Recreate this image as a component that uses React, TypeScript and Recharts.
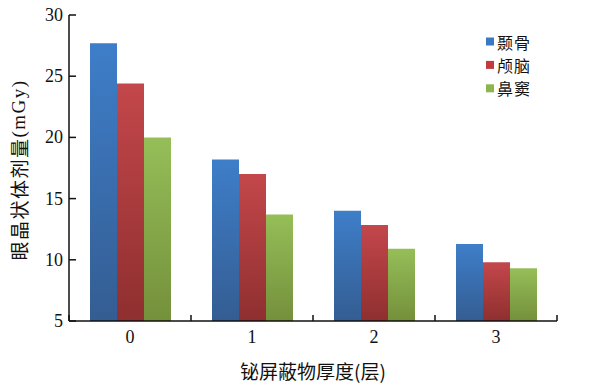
import React from 'react';
import { BarChart, Bar, XAxis, YAxis } from 'recharts';

const categories = ['0', '1', '2', '3'];
const seriesNames = ['颞骨', '颅脑', '鼻窦'];
const temporalBone = [27.7, 18.2, 14.0, 11.3];
const brain = [24.4, 17.0, 12.85, 9.8];
const sinus = [20.0, 13.7, 10.9, 9.3];
const yTicks = [5, 10, 15, 20, 25, 30];
const yTitleCJK = '眼晶状体剂量';
const yTitleUnit = '(mGy)';
const xTitle = '铋屏蔽物厚度(层)';

const data = categories.map((c, i) => ({
  cat: c,
  s0: temporalBone[i],
  s1: brain[i],
  s2: sinus[i],
}));

const seriesKeys = ['s0', 's1', 's2'];
const gradients = [
  { id: 'gBlue', top: '#3e7ec9', bottom: '#345d92', legend: '#3a78c2' },
  { id: 'gRed', top: '#c3474b', bottom: '#8f2f2f', legend: '#c03a3f' },
  { id: 'gGreen', top: '#95be58', bottom: '#74903b', legend: '#8db44f' },
];

const SERIF = '"Liberation Serif", "Times New Roman", serif';
const CJK = '"Noto Sans CJK SC", sans-serif';

const YTick = (props: any) => {
  const { x, y, payload } = props;
  return (
    <g>
      <line x1={x} x2={x + 7} y1={y} y2={y} stroke="#111" strokeWidth={1.5} />
      <text x={x - 6} y={y} dy={6} textAnchor="end" fontFamily={SERIF} fontSize={18} fill="#111">
        {payload.value}
      </text>
    </g>
  );
};

const XTick = (props: any) => {
  const { x, y, payload, index } = props;
  const half = typeof payload.offset === 'number' && payload.offset > 0 ? payload.offset : 61;
  const isLast = index === categories.length - 1;
  return (
    <g>
      <line x1={x - half} x2={x - half} y1={y} y2={y - 6} stroke="#111" strokeWidth={1.5} />
      {isLast && <line x1={x + half} x2={x + half} y1={y} y2={y - 6} stroke="#111" strokeWidth={1.5} />}
      <text x={x} y={y} dy={22} textAnchor="middle" fontFamily={SERIF} fontSize={18} fill="#111">
        {payload.value}
      </text>
    </g>
  );
};

export default function App() {
  return (
    <div style={{ position: 'absolute', left: 0, top: 0, width: 600, height: 391, background: '#fff' }}>
      <BarChart
        width={600}
        height={391}
        data={data}
        margin={{ top: 15, right: 43, bottom: 0, left: 0 }}
        barGap={0}
        barSize={27}
      >
        <defs>
          {gradients.map((g) => (
            <linearGradient key={g.id} id={g.id} x1="0" y1="0" x2="0" y2="1">
              <stop offset="0%" stopColor={g.top} />
              <stop offset="100%" stopColor={g.bottom} />
            </linearGradient>
          ))}
        </defs>
        <XAxis
          dataKey="cat"
          height={70}
          tickSize={0}
          tickMargin={0}
          tickLine={false}
          axisLine={{ stroke: '#111', strokeWidth: 1.5 }}
          tick={<XTick />}
          interval={0}
        />
        <YAxis
          width={69}
          domain={[5, 30]}
          ticks={yTicks}
          tickSize={0}
          tickMargin={0}
          tickLine={false}
          axisLine={{ stroke: '#111', strokeWidth: 1.5 }}
          tick={<YTick />}
          interval={0}
        />
        {seriesKeys.map((k, i) => (
          <Bar key={k} dataKey={k} name={seriesNames[i]} fill={`url(#${gradients[i].id})`} isAnimationActive={false} />
        ))}
        <text
          x={18}
          y={170}
          transform="rotate(-90, 18, 170)"
          textAnchor="middle"
          dominantBaseline="central"
          fontSize={19}
          fill="#111"
          letterSpacing={1.5}
        >
          <tspan fontFamily={CJK}>{yTitleCJK}</tspan>
          <tspan fontFamily={SERIF}>{yTitleUnit}</tspan>
        </text>
        <text x={313} y={370} textAnchor="middle" dominantBaseline="central" fontSize={19} fontFamily={CJK} fill="#111">
          {xTitle}
        </text>
        <g>
          {seriesNames.map((n, i) => (
            <g key={n}>
              <rect x={486} y={37.5 + i * 23.4} width={8} height={8} fill={gradients[i].legend} />
              <text x={497} y={41.5 + i * 23.4} dominantBaseline="central" fontSize={16} fontFamily={CJK} fill="#111" letterSpacing={1}>
                {n}
              </text>
            </g>
          ))}
        </g>
      </BarChart>
    </div>
  );
}
